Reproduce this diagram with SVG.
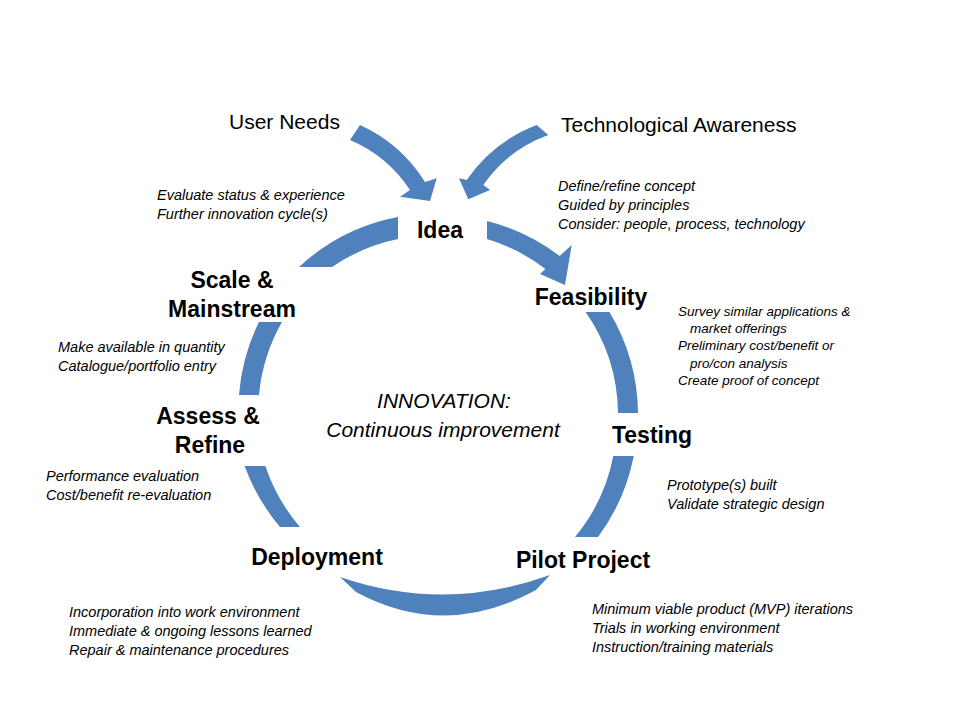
<svg xmlns="http://www.w3.org/2000/svg" width="960" height="720" viewBox="0 0 960 720">
<style>
.seg{fill:#4F81BD;stroke:none}
.lbl{font-family:"Liberation Sans",Arial,sans-serif;font-weight:bold;font-size:23px;text-anchor:middle;fill:#000}
.src{font-family:"Liberation Sans",Arial,sans-serif;font-size:21px;fill:#000}
.note{font-family:"Liberation Sans",Arial,sans-serif;font-style:italic;font-size:14.5px;fill:#000}
.notec{font-family:"Liberation Sans",Arial,sans-serif;font-style:italic;font-size:13.5px;fill:#000}
.ctr{font-family:"Liberation Sans",Arial,sans-serif;font-style:italic;font-size:21px;text-anchor:middle;fill:#000}
</style>
<rect width="960" height="720" fill="#fff"/>
<g id="connectors">
  <path class="seg" d="M360,125 A150,150 0 0 1 425,182 L436.7,178.3 L430,201 L400,196.7 L410,190 A135,135 0 0 0 350,140 Z"/>
  <path class="seg" d="M536.7,125 A150,150 0 0 0 466.7,180 L459,178.3 L468.3,199.3 L490,190 L483.3,185 A135,135 0 0 1 548.3,135 Z"/>
  <path class="seg" d="M487,221 A200,200 0 0 1 559.7,256 L571.7,245 L565,285 L540,274 L545.4,269 A181,181 0 0 0 487,239 Z"/>
  <path class="seg" d="M585.6,312 L609.4,312 A200,200 0 0 1 638,413 L618,413 A180,180 0 0 0 585.6,312 Z"/>
  <path class="seg" d="M613.3,456 L633.75,456 A200,200 0 0 1 598,537 L575,537 A180,180 0 0 0 613.3,456 Z"/>
  <path class="seg" d="M340,577 Q445,613 550,575 L536,590 Q445,640 356,592 Z"/>
  <path class="seg" d="M244.6,466 L265.4,466 A180,180 0 0 0 300,527 L280,527 A200,200 0 0 1 244.6,466 Z"/>
  <path class="seg" d="M239,395 A200,200 0 0 1 259,322 L282,322 A180,180 0 0 0 259,395 Z"/>
  <path class="seg" d="M299,267 A200,200 0 0 1 398,217 L398,239 A180,180 0 0 0 332,267 Z"/>
</g>
<g id="user-needs"><text class="src" x="229" y="129">User Needs</text></g>
<g id="tech-awareness"><text class="src" x="561" y="132">Technological Awareness</text></g>
<g id="idea">
  <text class="lbl" x="440" y="238">Idea</text>
  <text class="note" x="558" y="191">Define/refine concept</text>
  <text class="note" x="558" y="210">Guided by principles</text>
  <text class="note" x="558" y="229">Consider: people, process, technology</text>
</g>
<g id="feasibility">
  <text class="lbl" x="591" y="305">Feasibility</text>
  <text class="notec" x="678" y="316">Survey similar applications &amp;</text>
  <text class="notec" x="690" y="333">market offerings</text>
  <text class="notec" x="678" y="350">Preliminary cost/benefit or</text>
  <text class="notec" x="690" y="368">pro/con analysis</text>
  <text class="notec" x="678" y="385">Create proof of concept</text>
</g>
<g id="testing">
  <text class="lbl" x="652" y="443">Testing</text>
  <text class="note" x="667" y="490">Prototype(s) built</text>
  <text class="note" x="667" y="509">Validate strategic design</text>
</g>
<g id="pilot-project">
  <text class="lbl" x="583" y="568">Pilot Project</text>
  <text class="note" x="592" y="614">Minimum viable product (MVP) iterations</text>
  <text class="note" x="592" y="633">Trials in working environment</text>
  <text class="note" x="592" y="652">Instruction/training materials</text>
</g>
<g id="deployment">
  <text class="lbl" x="317" y="565">Deployment</text>
  <text class="note" x="69" y="617">Incorporation into work environment</text>
  <text class="note" x="69" y="636">Immediate &amp; ongoing lessons learned</text>
  <text class="note" x="69" y="655">Repair &amp; maintenance procedures</text>
</g>
<g id="assess-refine">
  <text class="lbl" x="208" y="424">Assess &amp;</text>
  <text class="lbl" x="210" y="453">Refine</text>
  <text class="note" x="46" y="481">Performance evaluation</text>
  <text class="note" x="46" y="500">Cost/benefit re-evaluation</text>
</g>
<g id="scale-mainstream">
  <text class="lbl" x="232" y="288">Scale &amp;</text>
  <text class="lbl" x="232" y="317">Mainstream</text>
  <text class="note" x="58" y="352">Make available in quantity</text>
  <text class="note" x="58" y="371">Catalogue/portfolio entry</text>
  <text class="note" x="157" y="200">Evaluate status &amp; experience</text>
  <text class="note" x="157" y="219">Further innovation cycle(s)</text>
</g>
<g id="innovation">
  <text class="ctr" x="444" y="408">INNOVATION:</text>
  <text class="ctr" x="443" y="437">Continuous improvement</text>
</g>
</svg>
